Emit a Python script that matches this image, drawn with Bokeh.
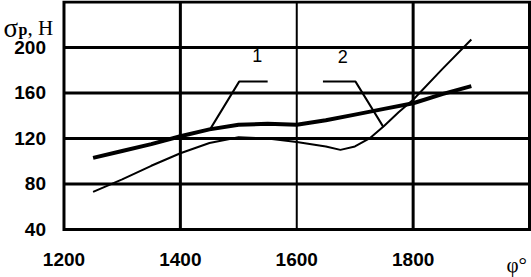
from bokeh.plotting import figure
from bokeh.models import Range1d, FixedTicker, Label
from bokeh.embed import file_html
from bokeh.resources import INLINE

# ---- data ----
x_ticks = [1200, 1400, 1600, 1800]
y_ticks = [40, 80, 120, 160, 200]
y_grid_values = [80, 120, 160, 200]
x_grid_thick = [1400, 1800]
x_grid_thin = [1600]
x_limits = [1200, 2000]
y_limits = [40, 240]

curve1_phi = [1250, 1300, 1350, 1400, 1450, 1500, 1550, 1600, 1650, 1700, 1750, 1800, 1850, 1900]
curve1_sigma = [103, 109, 115, 122, 128, 132, 133, 132, 136, 141, 146, 151, 159, 166]

curve2_phi = [1250, 1300, 1350, 1400, 1450, 1500, 1550, 1600, 1650, 1675, 1700, 1725, 1750, 1775, 1800, 1850, 1900]
curve2_sigma = [73, 84, 96, 107, 116, 121, 120, 117, 113, 110, 113, 120, 131, 143, 154, 181, 207]

leader1_phi = [1451, 1501, 1550]
leader1_sigma = [128, 170, 170]
leader2_phi = [1645, 1701, 1749]
leader2_sigma = [170, 170, 130]

curve_labels = ["1", "2"]

# ---- figure (frame fills the canvas; axes drawn at fixed locations) ----
p = figure(width=531, height=277,
           x_range=Range1d(1090.9, 2003.4), y_range=Range1d(-2.2, 241.3),
           output_backend="svg", toolbar_location=None,
           min_border_left=0, min_border_right=0,
           min_border_top=0, min_border_bottom=0)
p.background_fill_color = "white"
p.border_fill_color = "white"
p.outline_line_color = None
p.xgrid.visible = False
p.ygrid.visible = False

# grid lines limited to the plot box
n_h = len(y_grid_values)
p.segment(x0=[x_limits[0]] * n_h, x1=[x_limits[1]] * n_h,
          y0=y_grid_values, y1=y_grid_values, line_color="black", line_width=3)
n_v = len(x_grid_thick)
p.segment(x0=x_grid_thick, x1=x_grid_thick, y0=[y_limits[0]] * n_v, y1=[y_limits[1]] * n_v,
          line_color="black", line_width=3)
n_t = len(x_grid_thin)
p.segment(x0=x_grid_thin, x1=x_grid_thin, y0=[y_limits[0]] * n_t, y1=[y_limits[1]] * n_t,
          line_color="black", line_width=2)

# plot box
p.quad(left=[x_limits[0]], right=[x_limits[1]], bottom=[y_limits[0]], top=[y_limits[1]],
       fill_color=None, line_color="black", line_width=3, line_join="miter")

# axes
for ax in (p.xaxis, p.yaxis):
    ax.axis_line_color = None
    ax.major_tick_line_color = None
    ax.minor_tick_line_color = None
    ax.major_tick_out = 0
    ax.major_tick_in = 0
    ax.major_label_text_font = "Liberation Sans"
    ax.major_label_text_font_style = "bold"
    ax.major_label_text_font_size = "19px"
    ax.major_label_text_color = "black"
p.xaxis.ticker = FixedTicker(ticks=x_ticks)
p.yaxis.ticker = FixedTicker(ticks=y_ticks)
p.xaxis.fixed_location = y_limits[0]
p.yaxis.fixed_location = x_limits[0]
p.xaxis.major_label_standoff = 24
p.yaxis.major_label_standoff = 18

# curves
p.line(curve1_phi, curve1_sigma, line_color="black", line_width=4)
p.line(curve2_phi, curve2_sigma, line_color="black", line_width=2)
p.line(leader1_phi, leader1_sigma, line_color="black", line_width=2)
p.line(leader2_phi, leader2_sigma, line_color="black", line_width=2)

p.add_layout(Label(x=1532, y=193, text=curve_labels[0], text_align="center",
                   text_baseline="middle", text_font="Liberation Sans",
                   text_font_size="18px", text_color="black"))
p.add_layout(Label(x=1679, y=192, text=curve_labels[1], text_align="center",
                   text_baseline="middle", text_font="Liberation Sans",
                   text_font_size="18px", text_color="black"))

# axis titles (screen units, origin at bottom-left of the canvas-filling frame)
p.add_layout(Label(x=3, y=250, x_units="screen", y_units="screen", text="σ",
                   text_font="Liberation Serif", text_font_size="27px",
                   text_baseline="alphabetic", text_color="black"))
p.add_layout(Label(x=18, y=248, x_units="screen", y_units="screen", text="р",
                   text_font="Liberation Serif", text_font_size="16px",
                   text_font_style="bold",
                   text_baseline="alphabetic", text_color="black"))
p.add_layout(Label(x=27, y=250, x_units="screen", y_units="screen", text=", Н",
                   text_font="Liberation Serif", text_font_size="21px",
                   text_baseline="alphabetic", text_color="black"))
p.add_layout(Label(x=506, y=13, x_units="screen", y_units="screen", text="φ°",
                   text_font="Liberation Serif", text_font_size="21px",
                   text_baseline="alphabetic", text_color="black"))

open("out.html", "w").write(file_html(p, INLINE))
